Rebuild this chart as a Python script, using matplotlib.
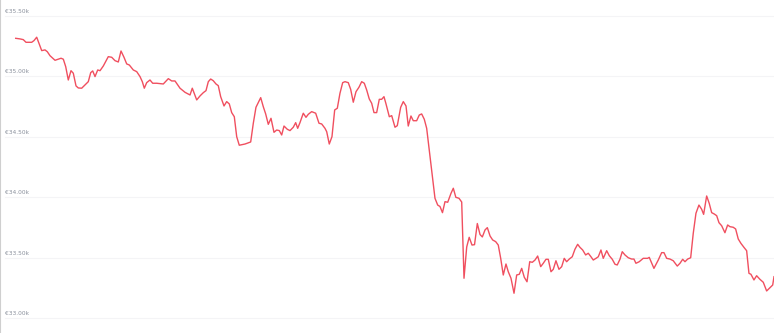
import matplotlib
matplotlib.use("Agg")
import matplotlib.pyplot as plt

# Hours since start of the window (7 days) and price in EUR
hours = [
    0, 0.95, 1.68, 2.28, 3.54, 4.05, 4.65, 5.76, 6.49, 7.0, 7.6, 8.71, 9.44, 10.04, 10.55,
    11.08, 11.65, 12.25, 12.76, 13.36, 13.87, 14.62, 15.73, 16.08, 16.62, 17.06, 17.57, 18.17,
    18.68, 19.41, 20.51, 21.27, 22.0, 22.73, 23.33, 23.99, 24.59, 25.17, 26.05, 26.81, 27.54,
    28.05, 28.49, 29.02, 29.75, 30.35, 31.24, 32.7, 33.81, 34.56, 35.29, 36.4, 37.51, 38.62,
    39.12, 40.1, 40.83, 41.56, 42.16, 42.67, 43.2, 43.77, 44.37, 44.88, 45.41, 46.15, 46.74,
    47.32, 47.85, 48.43, 48.96, 49.53, 50.8, 52.06, 52.64, 53.23, 54.28, 54.85, 55.38, 55.96,
    56.56, 57.22, 57.82, 58.4, 58.93, 59.44, 60.17, 60.77, 61.5, 62.03, 62.47, 62.98, 63.71,
    64.31, 64.82, 65.57, 66.46, 67.19, 67.79, 68.52, 68.9, 69.47, 70.07, 70.67, 71.25, 71.84,
    72.44, 72.95, 73.68, 74.21, 74.79, 75.39, 76.05, 76.65, 77.23, 77.76, 78.33, 78.87, 79.38,
    79.97, 80.55, 81.08, 81.59, 82.04, 82.77, 83.3, 84.03, 84.54, 85.29, 85.87, 86.47, 86.97,
    87.57, 88.08, 88.83, 89.41, 89.94, 90.52, 91.05, 92.1, 92.89, 93.49, 94.0, 94.55, 95.11,
    95.71, 96.44, 96.95, 97.51, 98.21, 98.81, 99.32, 99.92, 100.47, 101.09, 101.65, 102.27,
    102.87, 103.38, 103.98, 104.49, 105.09, 105.67, 106.34, 106.91, 107.45, 108.02, 108.62,
    109.13, 109.73, 110.4, 110.99, 111.57, 112.1, 112.68, 113.28, 113.88, 114.45, 115.05,
    115.64, 116.31, 116.88, 117.48, 117.99, 118.59, 119.1, 119.69, 120.36, 120.96, 121.53,
    122.06, 122.64, 123.3, 123.9, 124.5, 125.01, 125.61, 126.27, 126.85, 127.45, 127.96,
    128.56, 129.07, 129.66, 130.17, 130.93, 131.5, 132.17, 132.77, 133.27, 133.87, 134.38,
    134.98, 135.71, 136.46, 136.97, 137.41, 138.14, 139.03, 140.0, 140.36, 141.4, 142.36,
    143.11, 143.62, 144.22, 144.95, 145.68, 146.57, 147.17, 147.77, 148.28, 148.87, 149.54,
    150.11, 150.71, 151.37, 151.97, 152.41, 153.08, 153.65, 154.19, 154.76, 155.3, 155.81,
    156.4, 157.13, 157.73, 158.24, 158.97, 159.5, 160.08, 160.67, 161.34, 161.94, 162.45,
    162.89, 163.56, 164.15, 164.89, 165.62, 166.37, 167.11, 167.71, 168.0,
]
price = [
    35315, 35310, 35304, 35282, 35282, 35296, 35324, 35213, 35219, 35204, 35171, 35133, 35142,
    35150, 35142, 35080, 34970, 35047, 35026, 34921, 34904, 34902, 34943, 34956, 35031, 35045,
    34998, 35053, 35047, 35086, 35163, 35158, 35130, 35119, 35210, 35158, 35103, 35094, 35053,
    35039, 34998, 34956, 34902, 34948, 34970, 34943, 34943, 34937, 34981, 34962, 34962, 34902,
    34868, 34846, 34902, 34805, 34838, 34865, 34882, 34956, 34978, 34964, 34937, 34923, 34832,
    34755, 34791, 34772, 34700, 34666, 34501, 34430, 34440, 34457, 34612, 34744, 34824, 34749,
    34689, 34603, 34653, 34537, 34556, 34551, 34515, 34589, 34562, 34551, 34579, 34617, 34570,
    34617, 34695, 34661, 34686, 34708, 34695, 34612, 34606, 34570, 34542, 34440, 34501, 34722,
    34736, 34860, 34948, 34956, 34948, 34893, 34786, 34873, 34910, 34956, 34943, 34887, 34813,
    34777, 34700, 34700, 34810, 34810, 34832, 34772, 34666, 34675, 34579, 34592, 34744, 34791,
    34755, 34589, 34672, 34633, 34633, 34680, 34689, 34645, 34570, 34242, 33991, 33935, 33923,
    33872, 33963, 33958, 34032, 34074, 33999, 33991, 33960, 33329, 33588, 33668, 33604, 33607,
    33782, 33691, 33671, 33729, 33748, 33679, 33646, 33632, 33604, 33494, 33356, 33447, 33383,
    33329, 33205, 33356, 33362, 33411, 33337, 33300, 33466, 33461, 33480, 33513, 33425, 33453,
    33486, 33486, 33383, 33403, 33474, 33403, 33425, 33494, 33466, 33488, 33507, 33569, 33610,
    33585, 33563, 33522, 33536, 33507, 33480, 33494, 33507, 33563, 33494, 33557, 33516, 33486,
    33445, 33439, 33486, 33549, 33522, 33499, 33488, 33488, 33453, 33466, 33494, 33494, 33502,
    33411, 33480, 33541, 33541, 33494, 33488, 33474, 33430, 33453, 33486, 33466, 33488, 33499,
    33701, 33867, 33935, 33900, 33858, 34010, 33949, 33872, 33861, 33847, 33789, 33764, 33706,
    33770, 33756, 33751, 33737, 33654, 33618, 33585, 33557, 33370, 33362, 33315, 33350, 33320,
    33296, 33224, 33251, 33273, 33342,
]
tick_values = [33000, 33500, 34000, 34500, 35000, 35500]
tick_labels = ["€33.00k", "€33.50k", "€34.00k", "€34.50k", "€35.00k", "€35.50k"]

fig = plt.figure(figsize=(7.74, 3.33), dpi=100)
ax = fig.add_axes([0, 0, 1, 1])

for v, lab in zip(tick_values, tick_labels):
    ax.axhline(v, xmin=5 / 774, xmax=1, color="#f4f4f6", lw=0.8, zorder=0)
    ax.annotate(lab, xy=(5 / 774, v), xycoords=("axes fraction", "data"),
                xytext=(0, 1.5), textcoords="offset points",
                fontsize=4.2, color="#8a909c", ha="left", va="bottom")

ax.plot(hours, price, color="#f04f5f", lw=1.0, solid_joinstyle="round")

ax.set_xlim(-3.48, 168)
ax.set_ylim(32876, 35632)
ax.set_xticks([])
ax.set_yticks([])
for side in ["top", "right", "bottom"]:
    ax.spines[side].set_visible(False)
ax.spines["left"].set_color("#cfcfcf")
ax.spines["left"].set_linewidth(1.5)

fig.savefig("out.png", dpi=100)
